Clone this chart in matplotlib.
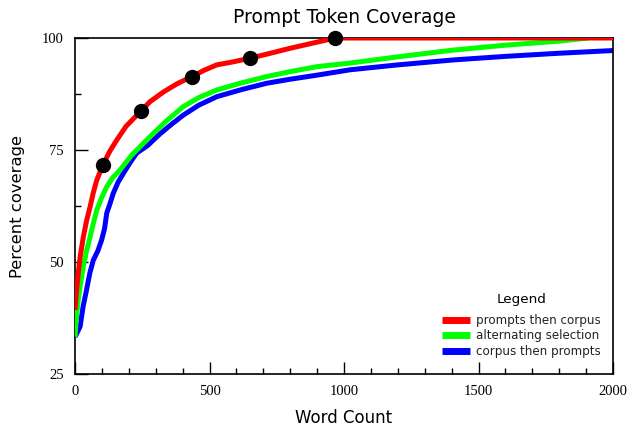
import numpy as np
import matplotlib
matplotlib.use("Agg")
from matplotlib import pyplot as plt
from matplotlib.ticker import MultipleLocator

# values
red_x = [0, 5, 12, 20, 31, 43, 56, 68, 81, 104, 130, 155, 190, 245, 279, 330, 380, 435, 480, 527, 590, 651, 720, 799, 880, 967, 1200, 1500, 1800, 2000]
red_y = [39.3, 43, 47.5, 51.5, 55.6, 59.2, 62.3, 65.5, 68.3, 71.7, 74.8, 77.2, 80.3, 83.7, 85.8, 88.0, 89.8, 91.4, 92.8, 94.0, 94.7, 95.5, 96.5, 97.7, 98.8, 100, 100, 100, 100, 100]

green_x = [0, 5, 12, 20, 31, 43, 56, 68, 81, 100, 118, 140, 167, 210, 266, 279, 340, 403, 460, 527, 620, 713, 800, 899, 1022, 1200, 1406, 1600, 1800, 1908]
green_y = [33.3, 37.5, 41.5, 45, 49, 52.5, 55.6, 58.6, 61.6, 64.5, 66.8, 68.8, 70.5, 73.8, 77.2, 78.0, 81.5, 84.7, 86.7, 88.4, 90.0, 91.4, 92.5, 93.6, 94.4, 95.8, 97.3, 98.4, 99.3, 100]

blue_x = [0, 10, 19, 30, 43, 55, 68, 85, 99, 110, 118, 130, 142, 160, 180, 205, 229, 270, 316, 360, 403, 460, 527, 620, 713, 800, 899, 1022, 1200, 1405, 1600, 1800, 2000]
blue_y = [33.3, 34.5, 35.6, 40, 43.8, 47.5, 50.4, 52.5, 54.9, 57.5, 60.9, 63.0, 65.3, 67.8, 69.8, 72.2, 74.3, 76.0, 78.6, 80.8, 82.8, 85.0, 86.9, 88.5, 89.9, 90.8, 91.7, 92.9, 94.0, 95.1, 95.9, 96.6, 97.2]

marker_x = [104, 245, 434, 651, 967]
marker_y = [71.7, 83.7, 91.4, 95.5, 100]

labels = ["prompts then corpus", "alternating selection", "corpus then prompts"]

fig = plt.figure(figsize=(6.36, 4.26), dpi=100)
ax = fig.add_axes([75/636, 1-374/426, 538/636, 336/426])

ax.plot(red_x, red_y, color="#ff0000", lw=3.6, label=labels[0], solid_capstyle="butt", zorder=4)
ax.plot(green_x, green_y, color="#00ff00", lw=3.6, label=labels[1], solid_capstyle="butt", zorder=3)
ax.plot(blue_x, blue_y, color="#0000ff", lw=3.6, label=labels[2], solid_capstyle="butt", zorder=2)
ax.plot(marker_x, marker_y, "o", color="black", ms=10, zorder=5, clip_on=False)

ax.set_xlim(0, 2000)
ax.set_ylim(25, 100)
ax.xaxis.set_major_locator(MultipleLocator(500))
ax.xaxis.set_minor_locator(MultipleLocator(100))
ax.yaxis.set_major_locator(MultipleLocator(25))
ax.yaxis.set_minor_locator(MultipleLocator(12.5))
ax.tick_params(which="major", direction="in", length=9, width=1, top=False, right=False)
ax.tick_params(which="minor", direction="in", length=4.5, width=1, top=False, right=False)
ax.tick_params(axis="x", pad=8)
ax.tick_params(axis="y", pad=8)
for lab in ax.get_xticklabels() + ax.get_yticklabels():
    lab.set_fontfamily("Liberation Serif")
    lab.set_fontsize(10.5)
for s in ax.spines.values():
    s.set_linewidth(1.2)

ax.set_title("Prompt Token Coverage", fontsize=13.5, pad=11)
ax.set_xlabel("Word Count", fontsize=12, labelpad=8)
ax.set_ylabel("Percent coverage", fontsize=11.8, labelpad=12)

leg = ax.legend(loc="lower right", bbox_to_anchor=(0.998, 0.016), frameon=False,
                title="Legend", fontsize=8.6, title_fontsize=9.7, handlelength=2.3,
                handletextpad=0.55, labelspacing=0.2)
leg._legend_box.sep = 6
for h in leg.get_lines():
    h.set_linewidth(5)
for t in leg.get_texts():
    t.set_color("#222222")

fig.savefig("out.png", dpi=100)
